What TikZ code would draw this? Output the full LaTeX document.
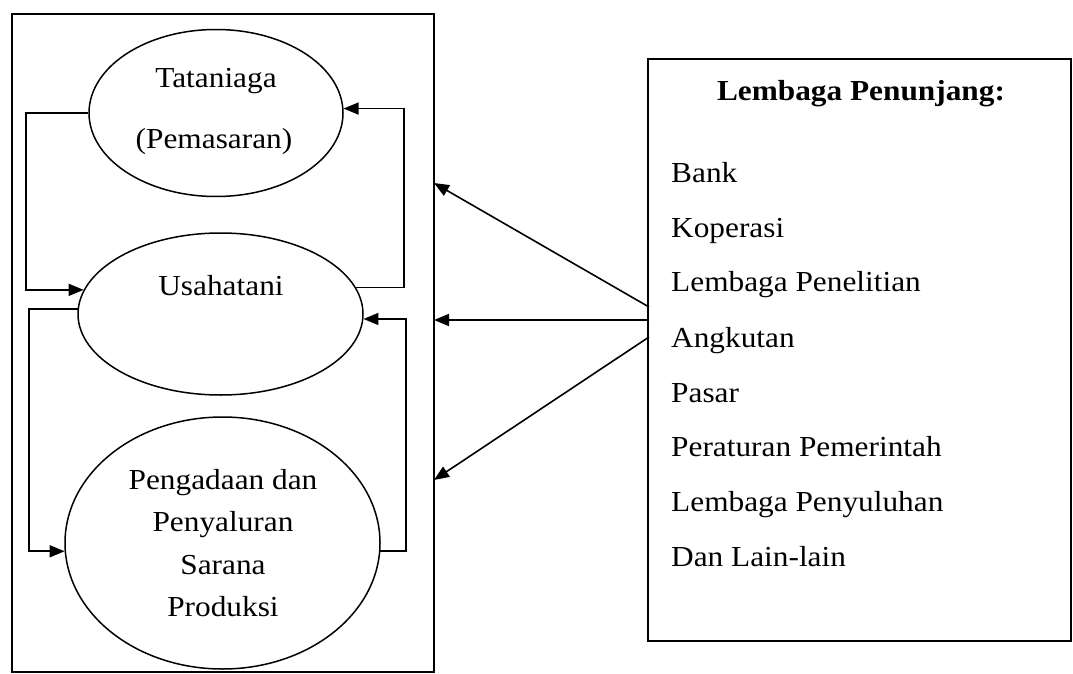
\documentclass[tikz,border=0pt]{standalone}
\usepackage{fontspec}
\setmainfont{Liberation Serif}[FakeStretch=1.08]
\usetikzlibrary{shapes.geometric,arrows.meta}
\begin{document}
\begin{tikzpicture}[x=1pt,y=-1pt,
  txt/.style={font=\fontsize{29}{34}\selectfont, inner sep=0pt, anchor=base},
  item/.style={font=\fontsize{29}{34}\selectfont, inner sep=0pt, anchor=base west},
  ell/.style={draw, ellipse, line width=1.5pt, inner sep=0pt},
  frame/.style={draw, rectangle, line width=1.7pt, inner sep=0pt},
  arr/.style={line width=1.6pt, -{Triangle[length=15pt,width=12pt]}}]
\useasboundingbox (0,0) rectangle (1073,674);
% frames
\node[frame, minimum width=422pt, minimum height=658pt] (lb) at (223,343) {};
\node[frame, minimum width=423pt, minimum height=582pt] (rb) at (859.5,350) {};
% ellipses
\node[ell, minimum width=254pt, minimum height=167pt] (tat) at (216,113) {};
\node[ell, minimum width=285pt, minimum height=162pt] (usa) at (220.5,314) {};
\node[ell, minimum width=315pt, minimum height=252pt] (pen) at (222.5,543) {};
% ellipse texts
\node[txt] (tat1) at (216,88) {Tataniaga};
\node[txt] (tat2) at (214,148) {(Pemasaran)};
\node[txt] (usaT) at (221,295) {Usahatani};
\node[txt] (pen1) at (223,489) {Pengadaan dan};
\node[txt] (pen2) at (223,531) {Penyaluran};
\node[txt] (pen3) at (223,574) {Sarana};
\node[txt] (pen4) at (223,616) {Produksi};
% right box texts
\node[txt, font=\bfseries\fontsize{29}{34}\selectfont] (title) at (861,101) {Lembaga Penunjang:};
\node[item] (i1) at (671,182) {Bank};
\node[item] (i2) at (671,237) {Koperasi};
\node[item] (i3) at (671,291) {Lembaga Penelitian};
\node[item] (i4) at (671,347) {Angkutan};
\node[item] (i5) at (671,402) {Pasar};
\node[item] (i6) at (671,456) {Peraturan Pemerintah};
\node[item] (i7) at (671,511) {Lembaga Penyuluhan};
\node[item] (i8) at (671,566) {Dan Lain-lain};
% loop connectors
\coordinate (xL1) at (26,0);
\coordinate (xR1) at (404,0);
\coordinate (xL2) at (29,0);
\coordinate (xR2) at (406,0);
\draw[arr] (tat.west) -- (tat.west -| xL1) |- (usa.170);
\draw[arr] (usa.11) -- (usa.11 -| xR1) |- (tat.2);
\draw[arr] (usa.178) -- (usa.178 -| xL2) |- (pen.183);
\draw[arr] (pen.357) -- (pen.357 -| xR2) |- (usa.358);
% arrows from supporting institutions
\coordinate (s1) at (649,307);
\coordinate (s2) at (649,320);
\coordinate (s3) at (649,337);
\coordinate (t1) at (434,183);
\coordinate (t2) at (434,320);
\coordinate (t3) at (434,480);
\draw[arr] (s1) -- (t1);
\draw[arr] (s2) -- (t2);
\draw[arr] (s3) -- (t3);
\end{tikzpicture}
\end{document}
